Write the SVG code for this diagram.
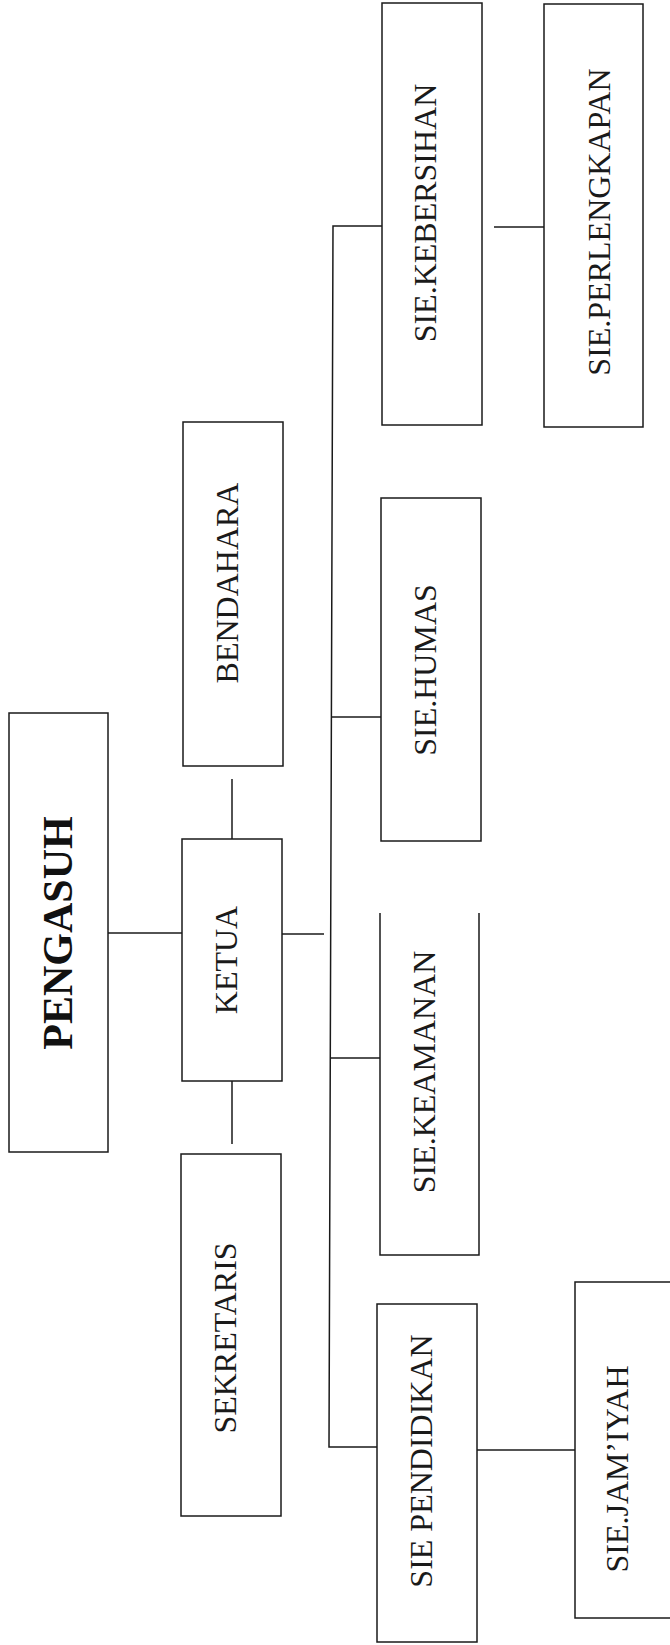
<svg xmlns="http://www.w3.org/2000/svg" width="670" height="1645" viewBox="0 0 670 1645">
<style>
.box{fill:none;stroke:#1a1a1a;stroke-width:1.5}
.ln{fill:none;stroke:#1a1a1a;stroke-width:1.5}
.t{font-family:"Liberation Serif","Times New Roman",serif;font-size:32px;fill:#1a1a1a;text-anchor:middle}
.tb{font-family:"Liberation Serif","Times New Roman",serif;font-size:42px;font-weight:bold;fill:#111;text-anchor:middle}
</style>
<rect width="670" height="1645" fill="#fff"/>
<g id="connectors">
<line class="ln" x1="108" y1="933" x2="182" y2="933"/>
<line class="ln" x1="232" y1="779" x2="232" y2="839"/>
<line class="ln" x1="232" y1="1081" x2="232" y2="1144"/>
<line class="ln" x1="282" y1="934" x2="324" y2="934"/>
<path class="ln" d="M382 226 L333 226 L329 1447 L377 1447"/>
<line class="ln" x1="332" y1="717" x2="381" y2="717"/>
<line class="ln" x1="331" y1="1058" x2="380" y2="1058"/>
<line class="ln" x1="477" y1="1450" x2="575" y2="1450"/>
<line class="ln" x1="494" y1="227" x2="544" y2="227"/>
</g>
<g id="pengasuh">
<rect class="box" x="9" y="713" width="99" height="439"/>
<text class="tb" transform="translate(72,933) rotate(-90)">PENGASUH</text>
</g>
<g id="ketua">
<rect class="box" x="182" y="839" width="100" height="242"/>
<text class="t" transform="translate(237,960) rotate(-90)">KETUA</text>
</g>
<g id="bendahara">
<rect class="box" x="183" y="422" width="100" height="344"/>
<text class="t" transform="translate(238,583) rotate(-90)">BENDAHARA</text>
</g>
<g id="sekretaris">
<rect class="box" x="181" y="1154" width="100" height="362"/>
<text class="t" transform="translate(236,1338) rotate(-90)">SEKRETARIS</text>
</g>
<g id="kebersihan">
<rect class="box" x="382" y="3" width="100" height="422"/>
<text class="t" transform="translate(436,213) rotate(-90)">SIE.KEBERSIHAN</text>
</g>
<g id="perlengkapan">
<rect class="box" x="544" y="4" width="99" height="423"/>
<text class="t" transform="translate(610,222) rotate(-90)">SIE.PERLENGKAPAN</text>
</g>
<g id="humas">
<rect class="box" x="381" y="498" width="100" height="343"/>
<text class="t" transform="translate(436,670) rotate(-90)">SIE.HUMAS</text>
</g>
<g id="keamanan">
<path class="box" d="M380 913 L380 1255 L479 1255 L479 913"/>
<text class="t" transform="translate(435,1072) rotate(-90)">SIE.KEAMANAN</text>
</g>
<g id="pendidikan">
<rect class="box" x="377" y="1304" width="100" height="338"/>
<text class="t" transform="translate(432,1461) rotate(-90)">SIE PENDIDIKAN</text>
</g>
<g id="jamiyah">
<rect class="box" x="575" y="1282" width="110" height="336"/>
<text class="t" transform="translate(628,1469) rotate(-90)">SIE.JAM’IYAH</text>
</g>
</svg>
